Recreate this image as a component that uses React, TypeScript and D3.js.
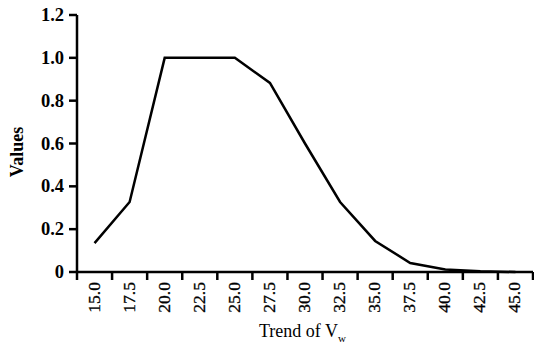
import { useEffect, useRef } from "react";
import * as d3 from "d3";

const categories = ["15.0", "17.5", "20.0", "22.5", "25.0", "27.5", "30.0", "32.5", "35.0", "37.5", "40.0", "42.5", "45.0"];
const values = [0.135, 0.327, 1.0, 1.0, 1.0, 0.883, 0.6, 0.327, 0.145, 0.042, 0.012, 0.003, 0.0];
const yTicks = [0, 0.2, 0.4, 0.6, 0.8, 1.0, 1.2];

const App = () => {
  const svgRef = useRef<SVGSVGElement>(null);

  useEffect(() => {
    if (!svgRef.current) return;
    const svg = d3.select(svgRef.current);
    svg.selectAll("*").remove();

    const left = 77;
    const right = 533;
    const top = 15;
    const bottom = 272;
    const font = "'Liberation Serif', 'Times New Roman', serif";

    const x = d3.scaleBand<string>().domain(categories).range([left, right]);
    const y = d3.scaleLinear().domain([0, 1.2]).range([bottom, top]);

    // x axis, ticks sit on the band edges
    svg
      .append("line")
      .attr("x1", left)
      .attr("x2", right)
      .attr("y1", bottom)
      .attr("y2", bottom)
      .attr("stroke", "#000")
      .attr("stroke-width", 2.5);

    const edges = categories.map((c) => x(c) ?? 0).concat([right]);
    svg
      .selectAll("line.xtick")
      .data(edges)
      .enter()
      .append("line")
      .attr("class", "xtick")
      .attr("x1", (d) => d)
      .attr("x2", (d) => d)
      .attr("y1", bottom)
      .attr("y2", bottom + 8)
      .attr("stroke", "#000")
      .attr("stroke-width", 2.5);

    svg
      .selectAll("text.xlab")
      .data(categories)
      .enter()
      .append("text")
      .attr("class", "xlab")
      .attr("transform", (d) => `translate(${(x(d) ?? 0) + x.bandwidth() / 2 + 5},${bottom + 10}) rotate(-90)`)
      .attr("text-anchor", "end")
      .attr("font-family", font)
      .attr("font-size", "17.5px")
      .attr("stroke", "#000")
      .attr("stroke-width", 0.3)
      .text((d) => d);

    // y axis
    svg
      .append("line")
      .attr("x1", left)
      .attr("x2", left)
      .attr("y1", top)
      .attr("y2", bottom)
      .attr("stroke", "#000")
      .attr("stroke-width", 2.5);

    svg
      .selectAll("line.ytick")
      .data(yTicks)
      .enter()
      .append("line")
      .attr("class", "ytick")
      .attr("x1", left - 8)
      .attr("x2", left)
      .attr("y1", (d) => y(d))
      .attr("y2", (d) => y(d))
      .attr("stroke", "#000")
      .attr("stroke-width", 2.5);

    svg
      .selectAll("text.ylab")
      .data(yTicks)
      .enter()
      .append("text")
      .attr("class", "ylab")
      .attr("x", left - 13)
      .attr("y", (d) => y(d) + 6)
      .attr("text-anchor", "end")
      .attr("font-family", font)
      .attr("font-weight", "bold")
      .attr("font-size", "18.5px")
      .text((d) => (d === 0 ? "0" : d.toFixed(1)));

    // data line
    const line = d3
      .line<number>()
      .x((_d, i) => (x(categories[i]) ?? 0) + x.bandwidth() / 2)
      .y((d) => y(d));

    svg
      .append("path")
      .datum(values)
      .attr("d", line)
      .attr("fill", "none")
      .attr("stroke", "#000")
      .attr("stroke-width", 2.5)
      .attr("stroke-linejoin", "miter");

    // axis titles
    svg
      .append("text")
      .attr("transform", "translate(23,152) rotate(-90)")
      .attr("text-anchor", "middle")
      .attr("font-family", font)
      .attr("font-weight", "bold")
      .attr("font-size", "18px")
      .text("Values");

    const xt = svg
      .append("text")
      .attr("x", 259)
      .attr("y", 337)
      .attr("font-family", font)
      .attr("font-size", "18px")
      .text("Trend of V");
    xt.append("tspan").attr("font-size", "11px").attr("dy", 5).text("w");
  }, []);

  return <svg ref={svgRef} width={534} height={348} style={{ position: "absolute", left: 0, top: 0, background: "#fff" }} />;
};

export default App;
